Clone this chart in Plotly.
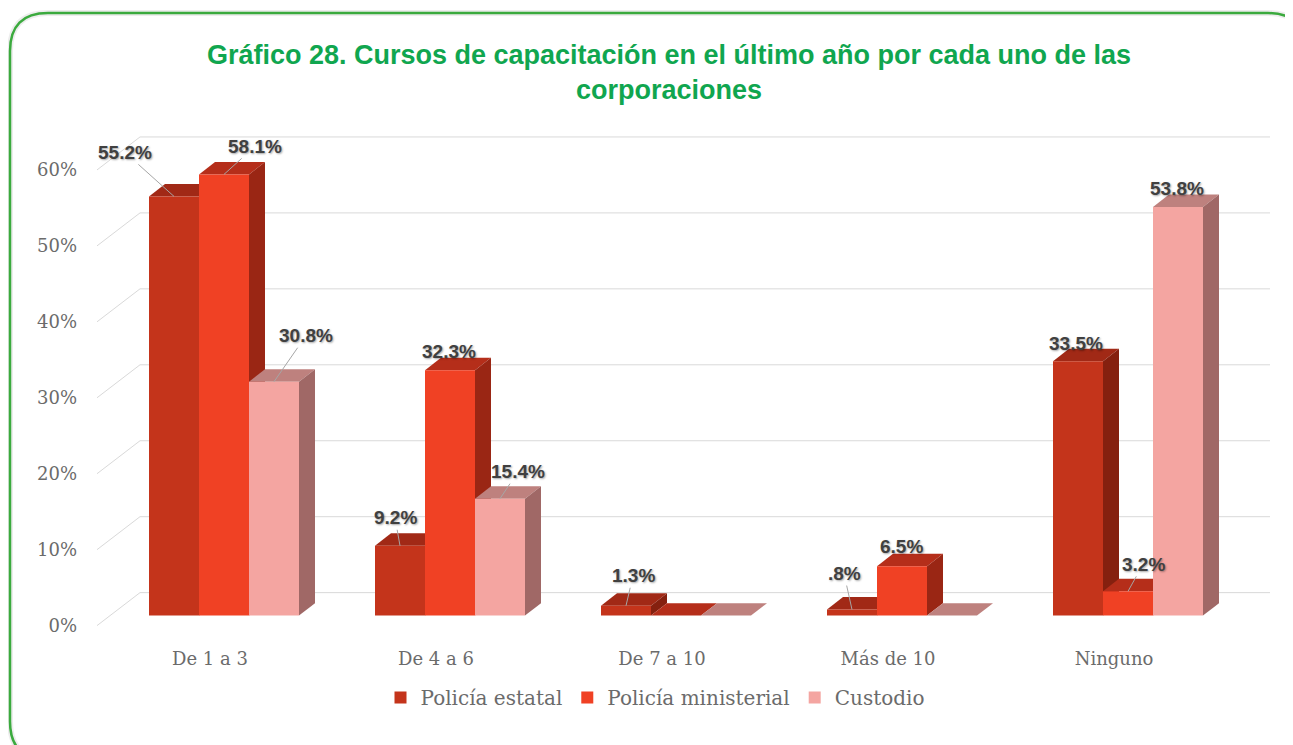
import plotly.graph_objects as go

# ---------------- data ----------------
categories = ["De 1 a 3", "De 4 a 6", "De 7 a 10", "Más de 10", "Ninguno"]
series_names = ["Policía estatal", "Policía ministerial", "Custodio"]
estatal = [55.2, 9.2, 1.3, 0.8, 33.5]
ministerial = [58.1, 32.3, 0.0, 6.5, 3.2]
custodio = [30.8, 15.4, 0.0, 0.0, 53.8]
label_estatal = ["55.2%", "9.2%", "1.3%", ".8%", "33.5%"]
label_ministerial = ["58.1%", "32.3%", "", "6.5%", "3.2%"]
label_custodio = ["30.8%", "15.4%", "", "", "53.8%"]
y_ticks = [0, 10, 20, 30, 40, 50, 60]
y_ticktext = ["0%", "10%", "20%", "30%", "40%", "50%", "60%"]
title_text = "Gráfico 28. Cursos de capacitación en el último año por cada uno de las<br>corporaciones"

# ---------------- styling / geometry ----------------
OFF = 8                      # page body margin in the browser
W, H = 1293 - OFF, 745 - OFF
L, R, T = 80 - OFF, 15, 84 - OFF
PXX = 226.0                  # px per category
PXY = 7.6                    # px per percentage point
Y0PX = 616.0 - OFF           # pixel row of 0% (figure coords)
YMIN, YMAX = -4.0, 70.0
BOT = Y0PX - YMIN * PXY
B = H - BOT
XMIN = -(224 - OFF - L) / PXX
XMAX = XMIN + (W - L - R) / PXX

BW = 50 / PXX
offsets = [-1.5 * BW, -0.5 * BW, 0.5 * BW]
DX, DY = 16 / PXX, 12.5 / PXY

front_col = ["#C4341B", "#F04124", "#F4A5A1"]
top_col = ["#A12916", "#B52E1A", "#BE817E"]
side_col = ["#85200F", "#9A2614", "#A06866"]

values = [estatal, ministerial, custodio]
labels = [label_estatal, label_ministerial, label_custodio]
# label offsets in px (dx, dy, leader line?)
label_pos = [
    [(-49, -44, True), (-5, -28, True), (7, -30, True), (-8, -36, True), (-2, -18, False)],
    [(31, -28, True), (-1, -19, False), None, (-1, -20, False), (15, -27, True)],
    [(32, -46, True), (18, -27, True), None, None, (-1, -19, False)],
]

def gx(ref_px):
    """reference-pixel column -> x data value"""
    return XMIN + (ref_px - OFF - L) / PXX

fig = go.Figure()
for k in range(3):
    fig.add_trace(go.Bar(
        x=list(range(len(categories))), y=values[k], name=series_names[k],
        width=BW, offset=offsets[k],
        marker=dict(color=front_col[k], line=dict(width=0)),
        hoverinfo="skip",
    ))

shapes = []
# back-wall gridlines and floor diagonals
GB = 23 / PXY
xf, xg0, xg1 = gx(97), gx(140), gx(1270)
for v in y_ticks:
    shapes.append(dict(type="line", xref="x", yref="y", x0=xg0, x1=xg1, y0=v + GB, y1=v + GB,
                       line=dict(color="#d9d9d9", width=1), layer="below"))
    shapes.append(dict(type="line", xref="x", yref="y", x0=xf, x1=xg0, y0=v - 10 / PXY, y1=v + GB,
                       line=dict(color="#d9d9d9", width=1), layer="below"))

# 3D top and side faces
for i in range(len(categories)):
    for k in range(3):
        v = values[k][i]
        x0 = i + offsets[k]
        x1 = x0 + BW
        shapes.append(dict(type="path", xref="x", yref="y", layer="below",
                           path=f"M{x0},{v} L{x1},{v} L{x1+DX},{v+DY} L{x0+DX},{v+DY} Z",
                           fillcolor=top_col[k], line=dict(width=0)))
        shapes.append(dict(type="path", xref="x", yref="y", layer="below",
                           path=f"M{x1},0 L{x1},{v} L{x1+DX},{v+DY} L{x1+DX},{DY} Z",
                           fillcolor=side_col[k], line=dict(width=0)))

# rounded green frame (paper coords), positions given in reference pixels
PW = W - L - R
PH = BOT - T
def px(xr):
    return (xr - OFF - L) / PW
def py(yr):
    return (BOT - (yr - OFF)) / PH
bx0, bx1, by0, by1, rad = 10, 1306, 13, 760, 38
frame = (f"M{px(bx0 + rad)},{py(by0)} L{px(bx1 - rad)},{py(by0)} "
         f"Q{px(bx1)},{py(by0)} {px(bx1)},{py(by0 + rad)} "
         f"L{px(bx1)},{py(by1 - rad)} Q{px(bx1)},{py(by1)} {px(bx1 - rad)},{py(by1)} "
         f"L{px(bx0 + rad)},{py(by1)} Q{px(bx0)},{py(by1)} {px(bx0)},{py(by1 - rad)} "
         f"L{px(bx0)},{py(by0 + rad)} Q{px(bx0)},{py(by0)} {px(bx0 + rad)},{py(by0)} Z")
shapes.append(dict(type="path", xref="paper", yref="paper", path=frame,
                   line=dict(color="rgba(0,0,0,0.07)", width=6), layer="below"))
shapes.append(dict(type="path", xref="paper", yref="paper", path=frame,
                   line=dict(color="#3BAA3E", width=2.5), layer="above"))

annotations = []
for k in range(3):
    for i in range(len(categories)):
        txt = labels[k][i]
        pos = label_pos[k][i]
        if not txt or pos is None:
            continue
        dxp, dyp, leader = pos
        xc = i + offsets[k] + BW / 2
        v = values[k][i]
        common = dict(x=xc, y=v, xref="x", yref="y", text=txt,
                      font=dict(family="Liberation Sans, Arial, sans-serif", size=19,
                                color="#404040", weight="bold",
                                shadow="1px 1px 2px rgba(0,0,0,0.35)"))
        if leader:
            annotations.append(dict(**common, showarrow=True, ax=dxp, ay=dyp,
                                    arrowhead=0, arrowwidth=1, arrowcolor="#a6a6a6",
                                    standoff=0, startstandoff=0))
        else:
            annotations.append(dict(**common, showarrow=False, xshift=dxp, yshift=-dyp))

tick_font = dict(family="DejaVu Serif, serif", size=18, color="#6b6b6b")

fig.update_layout(
    width=W, height=H,
    margin=dict(l=L, r=R, t=T, b=B, pad=0),
    paper_bgcolor="white", plot_bgcolor="white",
    barmode="overlay",
    shapes=shapes, annotations=annotations,
    title=dict(text=title_text, x=(669 - OFF) / W, xref="container", xanchor="center",
               y=1 - (64 - OFF) / H, yref="container", yanchor="top",
               font=dict(family="Liberation Sans, Arial, sans-serif", size=27,
                         color="#10A64F", weight="bold")),
    xaxis=dict(range=[XMIN, XMAX], tickmode="array", tickvals=list(range(len(categories))),
               ticktext=categories, showgrid=False, zeroline=False, showline=False,
               ticks="", tickfont=tick_font, ticklabelshift=-14, ticklabelstandoff=0),
    yaxis=dict(range=[YMIN, YMAX], tickmode="array", tickvals=y_ticks, ticktext=y_ticktext,
               showgrid=False, zeroline=False, showline=False, ticks="",
               tickfont=tick_font, ticklabelshift=10, ticklabelstandoff=2),
    legend=dict(orientation="h", x=px(655), xanchor="center", y=py(698), yanchor="middle",
                font=dict(family="DejaVu Serif, serif", size=20, color="#6b6b6b"),
                bgcolor="rgba(0,0,0,0)", traceorder="normal"),
    showlegend=True,
)

fig.write_html("out.html")
